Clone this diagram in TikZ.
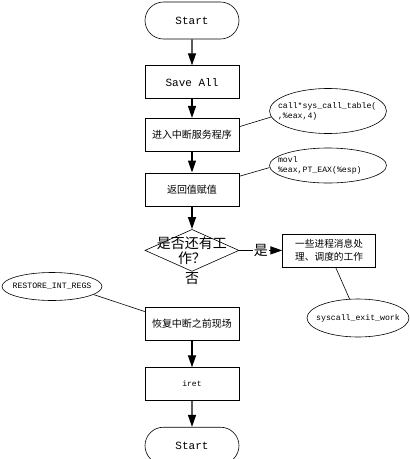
\documentclass[tikz,border=0pt]{standalone}
\usepackage{fontspec}
\setmainfont{Liberation Mono}
\newfontfamily\cjk{Noto Sans CJK SC}
\usetikzlibrary{positioning,shapes.geometric,shapes.misc,arrows.meta}
\tikzstyle{line} = [draw,line width=0.6pt]
\tikzstyle{flow} = [draw,line width=1.2pt,-{Triangle[length=12pt,width=8pt]}]
\tikzstyle{block} = [draw,rectangle,line width=0.6pt,minimum width=94pt,minimum height=33pt,inner sep=0pt,font=\cjk\fontsize{10}{12}\selectfont,align=center]
\tikzstyle{terminal} = [draw,rounded rectangle,line width=0.6pt,minimum width=94pt,minimum height=37pt,inner sep=0pt,font=\fontsize{11}{13}\selectfont]
\tikzstyle{decision} = [draw,diamond,line width=0.6pt,minimum width=94pt,minimum height=42pt,inner sep=0pt]
\tikzstyle{note} = [draw,ellipse,line width=0.6pt,inner sep=-15pt,font=\fontsize{8.2}{10}\selectfont,align=left]

\begin{document}
\begin{tikzpicture}[auto,node distance=20pt]
           \useasboundingbox (0,0) rectangle (410pt,-459pt);
           \node[terminal] (start) at (192pt,-20.5pt) {Start};
           \node[block, font=\fontsize{11}{13}\selectfont] (saveall) [below = 26pt of start] {Save All};
           \node[block] (enter) [below = 19pt of saveall] {进入中断服务程序};
           \node[block] (retval) [below = 21pt of enter] {返回值赋值};
           \node[decision] (check) [below = 23pt of retval] {};
           \node[font=\cjk\fontsize{14}{15}\selectfont, align=center, inner sep=0pt] (checktext) at (check) {是否还有工\\作？};
           \node[font=\cjk\fontsize{14}{15}\selectfont, inner sep=0pt] (nolabel) [below = 1pt of check] {否};
           \node[block, minimum width=93pt, font=\cjk\fontsize{9.7}{13}\selectfont] (work) [right = 43pt of check] {一些进程消息处\\理、调度的工作};
           \node[block] (restore) [below = 35pt of check] {恢复中断之前现场};
           \node[block, font=\fontsize{8}{10}\selectfont] (iret) [below = 27pt of restore] {iret};
           \node[terminal] (finish) [below = 26pt of iret] {Start};
           % notes
           \node[note, minimum width=117pt, minimum height=45pt, text width=100pt] (callnote) at (328pt,-111pt) {call*sys\_call\_table(\\,\%eax,4)};
           \node[note, minimum width=117pt, minimum height=35pt, text width=100pt] (movlnote) at (328pt,-165.5pt) {movl\\\%eax,PT\_EAX(\%esp)};
           \node[note, minimum width=100pt, minimum height=28pt] (restorenote) at (52pt,-286.5pt) {RESTORE\_INT\_REGS};
           \node[note, minimum width=102pt, minimum height=38pt] (syscallnote) at (358pt,-318pt) {syscall\_exit\_work};
           % flow
           \path[flow] (start) -- (saveall);
           \path[flow] (saveall) -- (enter);
           \path[flow] (enter) -- (retval);
           \path[flow] (retval) -- (check);
           \path[flow] (check) -- node[auto=false, fill=white, inner sep=1pt, font=\cjk\fontsize{14}{15}\selectfont] {是} (work);
           \path[flow] (restore) -- (iret);
           \path[flow] (iret) -- (finish);
           % links to notes
           \path[line] ([yshift=8pt]enter.east) -- (callnote.186);
           \path[line] ([yshift=13pt]retval.east) -- (movlnote.182);
           \path[line] (restorenote.349) -- ([yshift=12pt]restore.west);
           \path[line] ([xshift=6.5pt]work.south) -- (syscallnote.114);
        \end{tikzpicture}
\end{document}
